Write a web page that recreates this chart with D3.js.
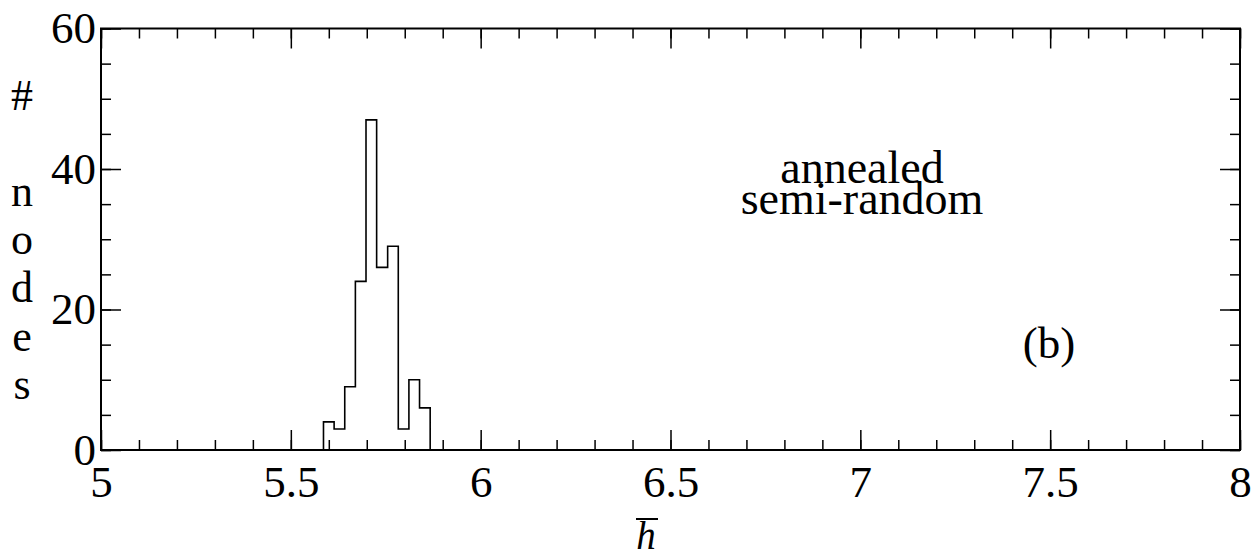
<!DOCTYPE html>
<html>
<head>
<meta charset="utf-8">
<script src="https://cdn.jsdelivr.net/npm/d3@7"></script>
<style>
  body { margin: 0; background: #fff; }
  svg text { fill: #000; }
</style>
</head>
<body>
<div id="chart"></div>
<script>
var width = 1255,
  height = 559;
var serif = "'Liberation Serif', 'Times New Roman', Times, Tinos, 'Nimbus Roman', 'Noto Serif', 'DejaVu Serif', FreeSerif, serif";

// histogram bins (edges in h-bar, counts of nodes)
var binEdges = [5.586, 5.614, 5.642, 5.670, 5.698, 5.726, 5.755, 5.783, 5.811, 5.839, 5.867];
var binCounts = [4, 3, 9, 24, 47, 26, 29, 3, 10, 6];

var xMajor = [5, 5.5, 6, 6.5, 7, 7.5, 8];
var xLabels = ['5', '5.5', '6', '6.5', '7', '7.5', '8'];
var yMajor = [0, 20, 40, 60];
var yLabels = ['0', '20', '40', '60'];

var yTitle = '# nodes';
var notes = ['annealed', 'semi-random'];
var panel = '(b)';

var x = d3.scaleLinear().domain([5, 8]).range([101, 1240]);
var y = d3.scaleLinear().domain([0, 60]).range([450, 28.5]);

var xMinor = d3.range(0, 31).map(i => 5 + i * 0.1);
var yMinor = d3.range(0, 13).map(i => i * 5);

var svg = d3.select('#chart')
  .append('svg')
  .attr('width', width)
  .attr('height', height)
  .style('font-family', serif);

function styleAxis(g) {
  g.attr('font-family', null).style('font-family', serif);
  g.select('.domain').remove();
  g.selectAll('line').attr('stroke', '#000').attr('stroke-width', 1.5);
}

// minor ticks, all four sides
svg.append('g')
  .attr('transform', 'translate(0,' + y(0) + ')')
  .call(d3.axisBottom(x).tickValues(xMinor).tickSize(-10).tickFormat(''))
  .call(styleAxis);
svg.append('g')
  .attr('transform', 'translate(0,' + y(60) + ')')
  .call(d3.axisTop(x).tickValues(xMinor).tickSize(-10).tickFormat(''))
  .call(styleAxis);
svg.append('g')
  .attr('transform', 'translate(' + x(5) + ',0)')
  .call(d3.axisLeft(y).tickValues(yMinor).tickSize(-10).tickFormat(''))
  .call(styleAxis);
svg.append('g')
  .attr('transform', 'translate(' + x(8) + ',0)')
  .call(d3.axisRight(y).tickValues(yMinor).tickSize(-10).tickFormat(''))
  .call(styleAxis);

// major ticks with labels
var xAxis = svg.append('g')
  .attr('transform', 'translate(0,' + y(0) + ')')
  .call(d3.axisBottom(x).tickValues(xMajor).tickSize(-20).tickPadding(15)
    .tickFormat((d, i) => xLabels[i]))
  .call(styleAxis);
xAxis.selectAll('text')
  .style('font-family', serif)
  .style('font-size', '45px')
  .attr('fill', '#000');

svg.append('g')
  .attr('transform', 'translate(0,' + y(60) + ')')
  .call(d3.axisTop(x).tickValues(xMajor).tickSize(-20).tickFormat(''))
  .call(styleAxis);

var yAxis = svg.append('g')
  .attr('transform', 'translate(' + x(5) + ',0)')
  .call(d3.axisLeft(y).tickValues(yMajor).tickSize(-20).tickPadding(5)
    .tickFormat((d, i) => yLabels[i]))
  .call(styleAxis);
yAxis.selectAll('text')
  .style('font-family', serif)
  .style('font-size', '45px')
  .attr('fill', '#000');

svg.append('g')
  .attr('transform', 'translate(' + x(8) + ',0)')
  .call(d3.axisRight(y).tickValues(yMajor).tickSize(-20).tickFormat(''))
  .call(styleAxis);

// frame
svg.append('rect')
  .attr('x', x(5))
  .attr('y', y(60))
  .attr('width', x(8) - x(5))
  .attr('height', y(0) - y(60))
  .attr('fill', 'none')
  .attr('stroke', '#000')
  .attr('stroke-width', 2);

// histogram outline as a step line
var pts = [[binEdges[0], 0]];
binCounts.forEach(function(c, i) {
  pts.push([binEdges[i], c]);
  pts.push([binEdges[i + 1], c]);
});
pts.push([binEdges[binEdges.length - 1], 0]);

svg.append('path')
  .datum(pts)
  .attr('fill', 'none')
  .attr('stroke', '#000')
  .attr('stroke-width', 1.6)
  .attr('d', d3.line().x(d => x(d[0])).y(d => y(d[1])));

// y title, one letter per line
svg.append('g')
  .selectAll('text')
  .data(yTitle.split(''))
  .join('text')
  .attr('x', 22)
  .attr('y', (d, i) => 110 + i * 48.1)
  .attr('text-anchor', 'middle')
  .style('font-family', serif)
  .style('font-size', '44px')
  .text(d => d);

// x title: h with a bar
svg.append('text')
  .attr('x', 646)
  .attr('y', 549)
  .attr('text-anchor', 'middle')
  .style('font-family', serif)
  .style('font-size', '39px')
  .style('font-style', 'italic')
  .text('h');
svg.append('line')
  .attr('x1', 636).attr('x2', 658)
  .attr('y1', 519).attr('y2', 519)
  .attr('stroke', '#000')
  .attr('stroke-width', 2);

// annotation, two tight lines in one text
svg.append('text')
  .attr('x', 862)
  .attr('y', 183)
  .attr('text-anchor', 'middle')
  .style('font-family', serif)
  .style('font-size', '46px')
  .selectAll('tspan')
  .data(notes)
  .join('tspan')
  .attr('x', 862)
  .attr('dy', (d, i) => i === 0 ? 0 : 31)
  .text(d => d);

svg.append('text')
  .attr('x', 1049)
  .attr('y', 358)
  .attr('text-anchor', 'middle')
  .style('font-family', serif)
  .style('font-size', '45px')
  .text(panel);
</script>
</body>
</html>
